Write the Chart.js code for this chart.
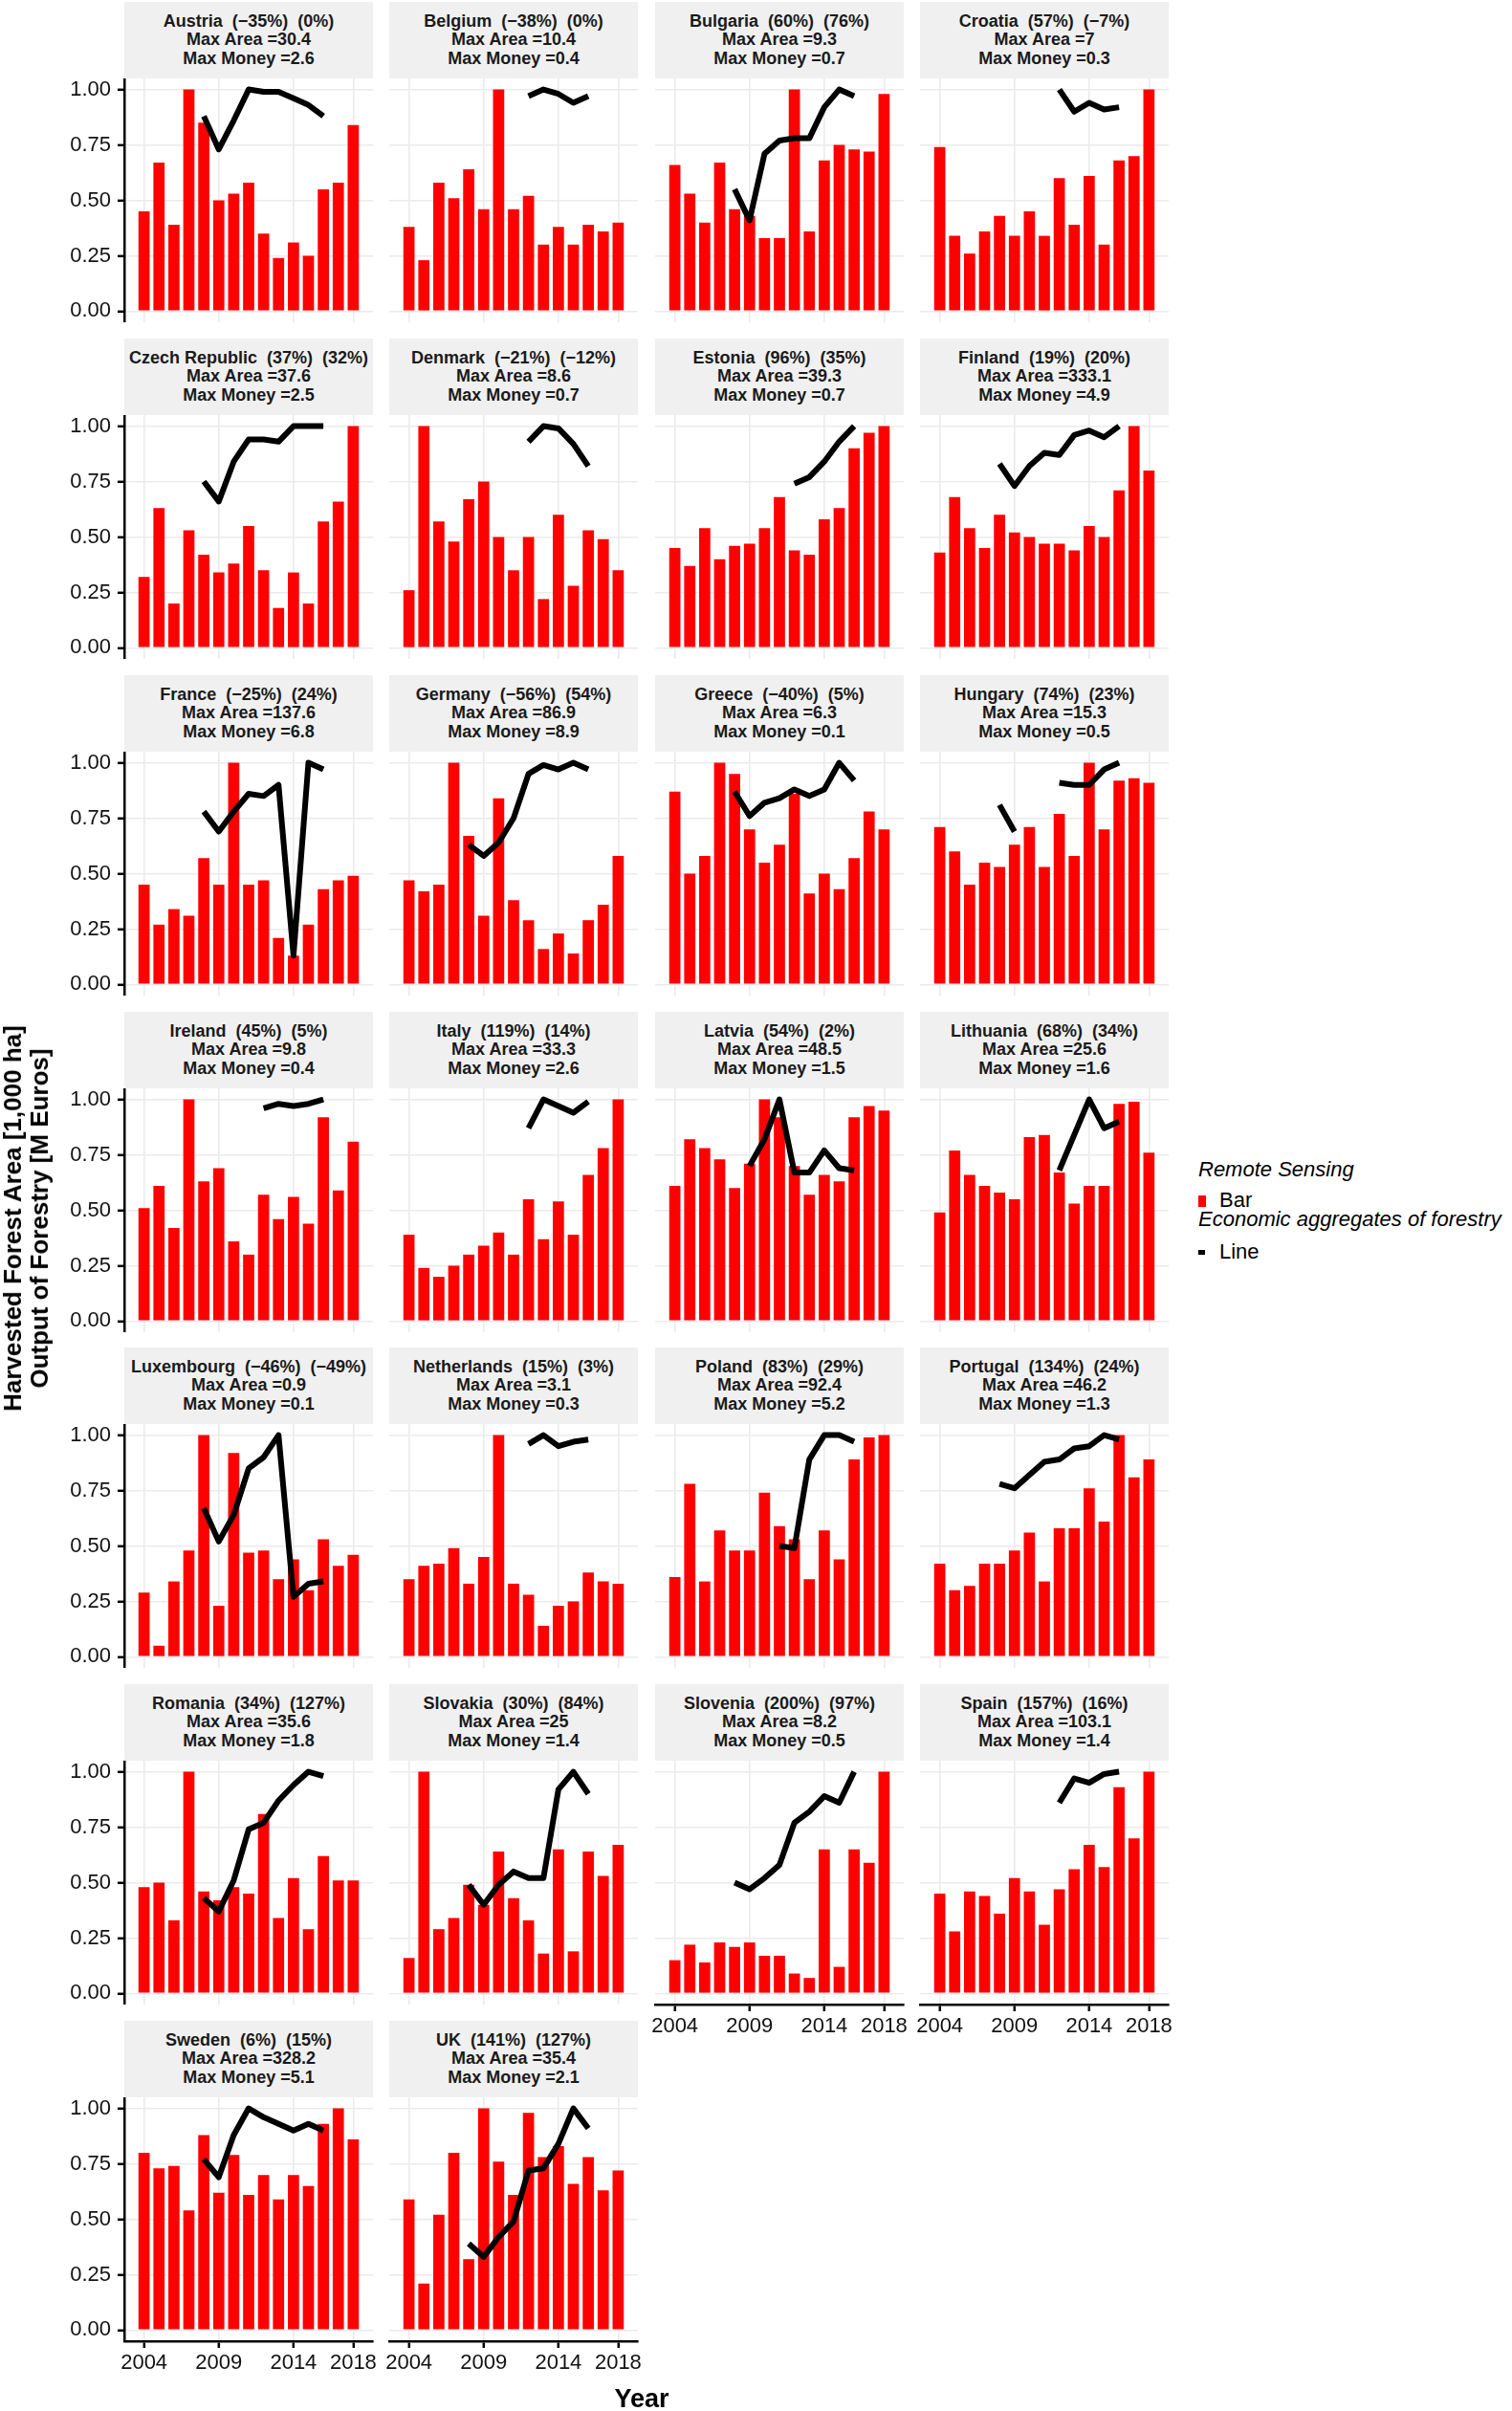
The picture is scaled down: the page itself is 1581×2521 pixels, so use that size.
<!DOCTYPE html>
<html>
<head>
<meta charset="utf-8">
<title>Harvested forest area vs output of forestry</title>
<script src="https://cdn.jsdelivr.net/npm/chart.js@4.4.1/dist/chart.umd.min.js"></script>
<style>
    html, body { margin: 0; padding: 0; background: #fff; }
    body { position: relative; width: 1581px; height: 2521px; overflow: hidden;
           font-family: 'Liberation Sans', Arial, Helvetica, sans-serif; color: #000; }
    .strip { position: absolute; background: #f0f0f0; display: flex; flex-direction: column;
             justify-content: center; align-items: center; font-weight: bold; font-size: 18px;
             line-height: 19.3px; color: #1a1a1a; white-space: pre; }
    .panel { position: absolute; }
    .txt { position: absolute; white-space: pre; }
</style>
</head>
<body>
<div id="root"></div>
<script>
(function () {
    'use strict';

    var years = [2004, 2005, 2006, 2007, 2008, 2009, 2010, 2011, 2012, 2013, 2014, 2015, 2016, 2017, 2018];
    var xTicks = [2004, 2009, 2014, 2018];
    var xTickLabels = ['2004', '2009', '2014', '2018'];
    var yTicks = [0, 0.25, 0.5, 0.75, 1];
    var yTickLabels = ['0.00', '0.25', '0.50', '0.75', '1.00'];

    var countries = ['Austria', 'Belgium', 'Bulgaria', 'Croatia', 'Czech Republic', 'Denmark', 'Estonia',
        'Finland', 'France', 'Germany', 'Greece', 'Hungary', 'Ireland', 'Italy', 'Latvia', 'Lithuania',
        'Luxembourg', 'Netherlands', 'Poland', 'Portugal', 'Romania', 'Slovakia', 'Slovenia', 'Spain',
        'Sweden', 'UK'];
    var areaChange = [-35, -38, 60, 57, 37, -21, 96, 19, -25, -56, -40, 74, 45, 119, 54, 68, -46, 15, 83, 134,
        34, 30, 200, 157, 6, 141];
    var moneyChange = [0, 0, 76, -7, 32, -12, 35, 20, 24, 54, 5, 23, 5, 14, 2, 34, -49, 3, 29, 24,
        127, 84, 97, 16, 15, 127];
    var maxArea = ['30.4', '10.4', '9.3', '7', '37.6', '8.6', '39.3', '333.1', '137.6', '86.9', '6.3', '15.3',
        '9.8', '33.3', '48.5', '25.6', '0.9', '3.1', '92.4', '46.2', '35.6', '25', '8.2', '103.1', '328.2', '35.4'];
    var maxMoney = ['2.6', '0.4', '0.7', '0.3', '2.5', '0.7', '0.7', '4.9', '6.8', '8.9', '0.1', '0.5',
        '0.4', '2.6', '1.5', '1.6', '0.1', '0.3', '5.2', '1.3', '1.8', '1.4', '0.5', '1.4', '5.1', '2.1'];

    // remote sensing, harvested area scaled to the country max (bars)
    var areaShare = [
        [0.45, 0.67, 0.39, 1.00, 0.85, 0.50, 0.53, 0.58, 0.35, 0.24, 0.31, 0.25, 0.55, 0.58, 0.84], // Austria
        [0.38, 0.23, 0.58, 0.51, 0.64, 0.46, 1.00, 0.46, 0.52, 0.30, 0.38, 0.30, 0.39, 0.36, 0.40], // Belgium
        [0.66, 0.53, 0.40, 0.67, 0.46, 0.43, 0.33, 0.33, 1.00, 0.36, 0.68, 0.75, 0.73, 0.72, 0.98], // Bulgaria
        [0.74, 0.34, 0.26, 0.36, 0.43, 0.34, 0.45, 0.34, 0.60, 0.39, 0.61, 0.30, 0.68, 0.70, 1.00], // Croatia
        [0.32, 0.63, 0.20, 0.53, 0.42, 0.34, 0.38, 0.55, 0.35, 0.18, 0.34, 0.20, 0.57, 0.66, 1.00], // Czech Republic
        [0.26, 1.00, 0.57, 0.48, 0.67, 0.75, 0.50, 0.35, 0.50, 0.22, 0.60, 0.28, 0.53, 0.49, 0.35], // Denmark
        [0.45, 0.37, 0.54, 0.40, 0.46, 0.47, 0.54, 0.68, 0.44, 0.42, 0.58, 0.63, 0.90, 0.97, 1.00], // Estonia
        [0.43, 0.68, 0.54, 0.45, 0.60, 0.52, 0.50, 0.47, 0.47, 0.44, 0.55, 0.50, 0.71, 1.00, 0.80], // Finland
        [0.45, 0.27, 0.34, 0.31, 0.57, 0.45, 1.00, 0.45, 0.47, 0.21, 0.13, 0.27, 0.43, 0.47, 0.49], // France
        [0.47, 0.42, 0.45, 1.00, 0.67, 0.31, 0.84, 0.38, 0.29, 0.16, 0.23, 0.14, 0.29, 0.36, 0.58], // Germany
        [0.87, 0.50, 0.58, 1.00, 0.95, 0.70, 0.55, 0.63, 0.86, 0.41, 0.50, 0.43, 0.57, 0.78, 0.70], // Greece
        [0.71, 0.60, 0.45, 0.55, 0.53, 0.63, 0.71, 0.53, 0.77, 0.58, 1.00, 0.70, 0.92, 0.93, 0.91], // Hungary
        [0.51, 0.61, 0.42, 1.00, 0.63, 0.69, 0.36, 0.30, 0.57, 0.46, 0.56, 0.44, 0.92, 0.59, 0.81], // Ireland
        [0.39, 0.24, 0.20, 0.25, 0.30, 0.34, 0.40, 0.30, 0.55, 0.37, 0.54, 0.39, 0.66, 0.78, 1.00], // Italy
        [0.61, 0.82, 0.78, 0.73, 0.60, 0.71, 1.00, 0.92, 0.70, 0.57, 0.66, 0.63, 0.92, 0.97, 0.95], // Latvia
        [0.49, 0.77, 0.66, 0.61, 0.58, 0.55, 0.83, 0.84, 0.67, 0.53, 0.61, 0.61, 0.98, 0.99, 0.76], // Lithuania
        [0.29, 0.05, 0.34, 0.48, 1.00, 0.23, 0.92, 0.47, 0.48, 0.35, 0.44, 0.30, 0.53, 0.41, 0.46], // Luxembourg
        [0.35, 0.41, 0.42, 0.49, 0.33, 0.45, 1.00, 0.33, 0.28, 0.14, 0.23, 0.25, 0.38, 0.34, 0.33], // Netherlands
        [0.36, 0.78, 0.34, 0.57, 0.48, 0.48, 0.74, 0.59, 0.53, 0.35, 0.57, 0.44, 0.89, 0.99, 1.00], // Poland
        [0.42, 0.30, 0.32, 0.42, 0.42, 0.48, 0.56, 0.34, 0.58, 0.58, 0.76, 0.61, 1.00, 0.81, 0.89], // Portugal
        [0.48, 0.50, 0.33, 1.00, 0.46, 0.42, 0.48, 0.45, 0.81, 0.34, 0.52, 0.29, 0.62, 0.51, 0.51], // Romania
        [0.16, 1.00, 0.29, 0.34, 0.49, 0.40, 0.64, 0.43, 0.33, 0.18, 0.65, 0.19, 0.64, 0.53, 0.67], // Slovakia
        [0.15, 0.22, 0.14, 0.23, 0.21, 0.23, 0.17, 0.17, 0.09, 0.07, 0.65, 0.12, 0.65, 0.59, 1.00], // Slovenia
        [0.45, 0.28, 0.46, 0.44, 0.36, 0.52, 0.46, 0.31, 0.47, 0.56, 0.67, 0.57, 0.93, 0.70, 1.00], // Spain
        [0.80, 0.73, 0.74, 0.54, 0.88, 0.62, 0.79, 0.61, 0.70, 0.59, 0.70, 0.65, 0.93, 1.00, 0.86], // Sweden
        [0.59, 0.21, 0.52, 0.80, 0.32, 1.00, 0.76, 0.61, 0.98, 0.78, 0.83, 0.66, 0.78, 0.63, 0.72]  // UK
    ];

    // economic aggregates of forestry, output scaled to the country max (line), null = no data
    var n = null;
    var moneyShare = [
        [n, n, n, n, 0.88, 0.73, 0.86, 1.00, 0.99, 0.99, 0.96, 0.93, 0.88, n, n], // Austria
        [n, n, n, n, n, n, n, n, 0.97, 1.00, 0.98, 0.94, 0.97, n, n],             // Belgium
        [n, n, n, n, 0.55, 0.41, 0.71, 0.77, 0.78, 0.78, 0.92, 1.00, 0.97, n, n], // Bulgaria
        [n, n, n, n, n, n, n, n, 1.00, 0.90, 0.94, 0.91, 0.92, n, n],             // Croatia
        [n, n, n, n, 0.75, 0.66, 0.84, 0.94, 0.94, 0.93, 1.00, 1.00, 1.00, n, n], // Czech Republic
        [n, n, n, n, n, n, n, n, 0.93, 1.00, 0.99, 0.92, 0.82, n, n],             // Denmark
        [n, n, n, n, n, n, n, n, 0.74, 0.77, 0.84, 0.93, 1.00, n, n],             // Estonia
        [n, n, n, n, 0.83, 0.73, 0.82, 0.88, 0.87, 0.96, 0.98, 0.95, 1.00, n, n], // Finland
        [n, n, n, n, 0.78, 0.69, 0.78, 0.86, 0.85, 0.90, 0.13, 1.00, 0.97, n, n], // France
        [n, n, n, n, 0.63, 0.58, 0.64, 0.75, 0.95, 0.99, 0.97, 1.00, 0.97, n, n], // Germany
        [n, n, n, n, 0.87, 0.76, 0.82, 0.84, 0.88, 0.85, 0.88, 1.00, 0.92, n, n], // Greece
        [n, n, n, n, 0.81, 0.69, n, n, 0.91, 0.90, 0.90, 0.97, 1.00, n, n],       // Hungary
        [n, n, n, n, n, n, n, n, 0.96, 0.98, 0.97, 0.98, 1.00, n, n],             // Ireland
        [n, n, n, n, n, n, n, n, 0.87, 1.00, 0.97, 0.94, 0.99, n, n],             // Italy
        [n, n, n, n, n, 0.70, 0.82, 1.00, 0.67, 0.67, 0.77, 0.69, 0.68, n, n],    // Latvia
        [n, n, n, n, n, n, n, n, 0.68, 0.84, 1.00, 0.87, 0.90, n, n],             // Lithuania
        [n, n, n, n, 0.67, 0.52, 0.64, 0.85, 0.90, 1.00, 0.27, 0.33, 0.34, n, n], // Luxembourg
        [n, n, n, n, n, n, n, n, 0.96, 1.00, 0.95, 0.97, 0.98, n, n],             // Netherlands
        [n, n, n, n, n, n, n, 0.50, 0.49, 0.89, 1.00, 1.00, 0.97, n, n],          // Poland
        [n, n, n, n, 0.78, 0.76, 0.82, 0.88, 0.89, 0.94, 0.95, 1.00, 0.98, n, n], // Portugal
        [n, n, n, n, 0.43, 0.37, 0.51, 0.74, 0.77, 0.87, 0.94, 1.00, 0.98, n, n], // Romania
        [n, n, n, n, 0.49, 0.40, 0.49, 0.55, 0.52, 0.52, 0.92, 1.00, 0.90, n, n], // Slovakia
        [n, n, n, n, 0.50, 0.47, 0.52, 0.58, 0.77, 0.82, 0.89, 0.86, 1.00, n, n], // Slovenia
        [n, n, n, n, n, n, n, n, 0.86, 0.97, 0.95, 0.99, 1.00, n, n],             // Spain
        [n, n, n, n, 0.77, 0.69, 0.88, 1.00, 0.96, 0.93, 0.90, 0.93, 0.90, n, n], // Sweden
        [n, n, n, n, 0.39, 0.33, 0.42, 0.49, 0.72, 0.73, 0.84, 1.00, 0.91, n, n]  // UK
    ];

    var FONT = "'Liberation Sans', Arial, Helvetica, sans-serif";
    var NCOL = 4;
    var PANEL_W = 260, PANEL_H = 255;
    var LEFT0 = 129.5, TOP0 = 82.4, COL_STEP = 277.5, ROW_STEP = 351.7;
    var STRIP_H = 80, YAXIS_W = 130, XAXIS_H = 60, SIDE = 30;
    var bottomPanels = ['Slovenia', 'Spain', 'Sweden', 'UK'];

    var root = document.getElementById('root');

    function pct(v) {
        return '(' + (v < 0 ? '\u2212' + Math.abs(v) : v) + '%)';
    }

    function addText(text, css) {
        var d = document.createElement('div');
        d.className = 'txt';
        d.textContent = text;
        Object.keys(css).forEach(function (k) { d.style[k] = css[k]; });
        root.appendChild(d);
        return d;
    }

    countries.forEach(function (name, i) {
        var col = i % NCOL;
        var row = Math.floor(i / NCOL);
        var left = Math.round(LEFT0 + col * COL_STEP);
        var top = Math.round(TOP0 + row * ROW_STEP);
        var showY = col === 0;
        var showX = bottomPanels.indexOf(name) >= 0;
        var side = showX ? SIDE : 0;

        var strip = document.createElement('div');
        strip.className = 'strip';
        strip.style.left = left + 'px';
        strip.style.top = (top - STRIP_H) + 'px';
        strip.style.width = PANEL_W + 'px';
        strip.style.height = STRIP_H + 'px';
        [name + '  ' + pct(areaChange[i]) + '  ' + pct(moneyChange[i]),
            'Max Area =' + maxArea[i],
            'Max Money =' + maxMoney[i]].forEach(function (t) {
            var s = document.createElement('div');
            s.textContent = t;
            strip.appendChild(s);
        });
        root.appendChild(strip);

        var w = PANEL_W + (showY ? YAXIS_W : 0) + 2 * side;
        var h = PANEL_H + (showX ? XAXIS_H : 0);
        var wrap = document.createElement('div');
        wrap.className = 'panel';
        wrap.style.left = (left - (showY ? YAXIS_W : 0) - side) + 'px';
        wrap.style.top = top + 'px';
        wrap.style.width = w + 'px';
        wrap.style.height = h + 'px';
        var canvas = document.createElement('canvas');
        canvas.width = w;
        canvas.height = h;
        canvas.style.width = w + 'px';
        canvas.style.height = h + 'px';
        wrap.appendChild(canvas);
        root.appendChild(wrap);

        var bars = years.map(function (y, j) {
            return { x: y, y: areaShare[i][j] };
        });
        var line = years.map(function (y, j) {
            return { x: y, y: moneyShare[i][j] };
        });

        new Chart(canvas, {
            type: 'bar',
            data: {
                datasets: [
                    {
                        type: 'line',
                        label: 'Line',
                        data: line,
                        borderColor: '#000',
                        borderWidth: 6,
                        borderCapStyle: 'butt',
                        borderJoinStyle: 'round',
                        pointRadius: 0,
                        tension: 0,
                        spanGaps: false,
                        order: 1,
                    },
                    {
                        type: 'bar',
                        label: 'Bar',
                        data: bars,
                        backgroundColor: '#ff0000',
                        borderWidth: 0,
                        barPercentage: 0.75,
                        categoryPercentage: 1,
                        order: 2,
                    },
                ],
            },
            options: {
                responsive: false,
                animation: false,
                events: [],
                layout: { padding: { left: side, right: side, top: 0, bottom: 0 } },
                plugins: {
                    legend: { display: false },
                    tooltip: { enabled: false },
                },
                scales: {
                    x: {
                        type: 'linear',
                        min: 2002.68,
                        max: 2019.32,
                        offset: false,
                        afterBuildTicks: function (s) {
                            s.ticks = xTicks.map(function (v) { return { value: v }; });
                        },
                        afterFit: function (s) {
                            s.height = showX ? XAXIS_H : 0;
                            s.paddingLeft = 0;
                            s.paddingRight = 0;
                        },
                        grid: {
                            color: '#ebebeb',
                            lineWidth: 1.6,
                            offset: false,
                            drawTicks: showX,
                            tickLength: 7,
                            tickColor: '#000',
                            tickWidth: 2.5,
                        },
                        border: { display: showX, color: '#000', width: 2.5 },
                        ticks: {
                            display: showX,
                            autoSkip: false,
                            maxRotation: 0,
                            minRotation: 0,
                            padding: 3,
                            color: '#111',
                            font: { family: FONT, size: 22 },
                            callback: function (v, idx) { return xTickLabels[idx]; },
                        },
                    },
                    y: {
                        type: 'linear',
                        min: -0.05,
                        max: 1.05,
                        afterBuildTicks: function (s) {
                            s.ticks = yTicks.map(function (v) { return { value: v }; });
                        },
                        afterFit: function (s) {
                            s.width = showY ? YAXIS_W : 0;
                            s.paddingTop = 0;
                            s.paddingBottom = 0;
                        },
                        grid: {
                            color: '#ebebeb',
                            lineWidth: 1.6,
                            drawTicks: showY,
                            tickLength: 7,
                            tickColor: '#000',
                            tickWidth: 2.5,
                        },
                        border: { display: showY, color: '#000', width: 2.5 },
                        ticks: {
                            display: showY,
                            padding: 7,
                            color: '#111',
                            font: { family: FONT, size: 22 },
                            callback: function (v, idx) { return yTickLabels[idx]; },
                        },
                    },
                },
            },
        });
    });

    // axis titles
    addText('Harvested Forest Area [1,000 ha]\nOutput of Forestry [M Euros]', {
        left: '27px', top: '1274px', fontWeight: 'bold', fontSize: '26px', lineHeight: '28px',
        textAlign: 'center', transform: 'translate(-50%, -50%) rotate(-90deg)',
    });
    addText('Year', {
        left: '671px', top: '2495px', fontWeight: 'bold', fontSize: '27px', lineHeight: '27px',
        transform: 'translateX(-50%)',
    });

    // legend
    addText('Remote Sensing', { left: '1253px', top: '1212px', fontSize: '22px', lineHeight: '22px', fontStyle: 'italic' });
    addText('Bar', { left: '1275px', top: '1244px', fontSize: '22px', lineHeight: '22px' });
    addText('Economic aggregates of forestry', { left: '1253px', top: '1264px', fontSize: '22px', lineHeight: '22px', fontStyle: 'italic' });
    addText('Line', { left: '1275px', top: '1298px', fontSize: '22px', lineHeight: '22px' });
    addText('', { left: '1253px', top: '1250px', width: '8px', height: '12px', background: '#ff0000' });
    addText('', { left: '1253px', top: '1307px', width: '7px', height: '5px', background: '#000' });
})();
</script>
</body>
</html>
